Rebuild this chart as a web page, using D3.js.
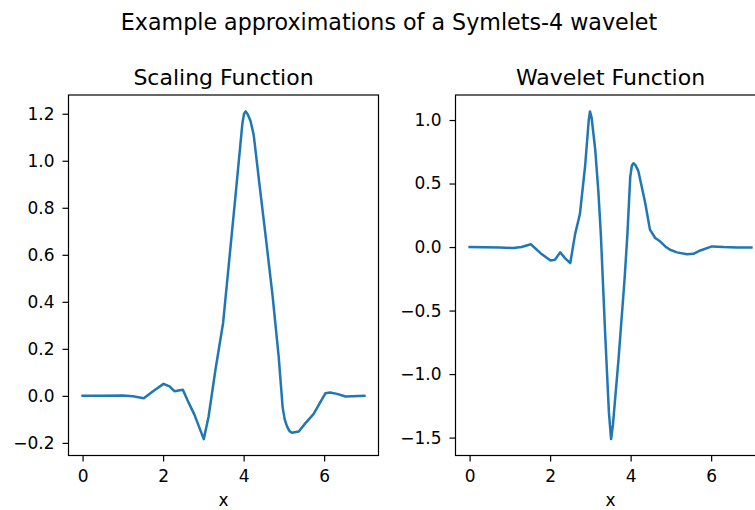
<!DOCTYPE html>
<html>
<head>
<meta charset="utf-8">
<script src="https://cdn.jsdelivr.net/npm/d3@7"></script>
<style>
  html, body { margin: 0; padding: 0; background: #fff; }
  svg { display: block; font-family: "DejaVu Sans", sans-serif; }
</style>
</head>
<body>
<svg id="chart" width="755" height="510"></svg>
<script>
// Symlets-4 scaling function (phi), sampled support 0..7
const phiX = [0, 0.5, 1.0, 1.25, 1.52, 1.75, 2.01, 2.16, 2.28, 2.49, 2.64, 2.78, 3.01, 3.13, 3.30, 3.49,
  3.79, 3.97, 4.01, 4.05, 4.10, 4.17, 4.25, 4.40, 4.56, 4.72, 4.87, 4.97, 5.02, 5.08, 5.14, 5.20,
  5.37, 5.53, 5.74, 6.03, 6.15, 6.32, 6.53, 7.0];
const phiY = [0, 0, 0.002, -0.002, -0.010, 0.020, 0.051, 0.040, 0.020, 0.026, -0.031, -0.081, -0.184, -0.088, 0.111, 0.31,
  0.837, 1.16, 1.20, 1.21, 1.198, 1.17, 1.11, 0.89, 0.66, 0.424, 0.168, -0.05, -0.10, -0.131, -0.150, -0.157,
  -0.152, -0.117, -0.077, 0.011, 0.014, 0.0085, -0.003, 0];

// Symlets-4 wavelet function (psi)
const psiX = [0, 0.75, 1.08, 1.29, 1.52, 1.77, 2.01, 2.12, 2.25, 2.37, 2.50, 2.62, 2.74, 2.87, 2.96, 2.99,
  3.03, 3.12, 3.20, 3.26, 3.37, 3.46, 3.515, 3.56, 3.70, 3.85, 3.92, 3.99, 4.03, 4.07, 4.12, 4.19,
  4.36, 4.48, 4.61, 4.73, 4.86, 4.98, 5.15, 5.40, 5.56, 5.73, 6.02, 6.31, 6.64, 7.0];
const psiY = [0, -0.003, -0.008, 0.0, 0.022, -0.050, -0.106, -0.100, -0.042, -0.087, -0.127, 0.10, 0.26, 0.64, 1.0, 1.068,
  1.02, 0.77, 0.43, 0.10, -0.70, -1.30, -1.512, -1.40, -0.88, -0.25, 0.10, 0.55, 0.64, 0.66, 0.645, 0.60,
  0.35, 0.137, 0.071, 0.045, 0.005, -0.021, -0.042, -0.056, -0.053, -0.027, 0.005, 0.0, -0.003, -0.003];

const xTicks = [0, 2, 4, 6];
const phiTicks = [-0.2, 0.0, 0.2, 0.4, 0.6, 0.8, 1.0, 1.2];
const psiTicks = [-1.5, -1.0, -0.5, 0.0, 0.5, 1.0];

const suptitle = "Example approximations of a Symlets-4 wavelet";
const panels = [
  { title: "Scaling Function", xs: phiX, ys: phiY, yTicks: phiTicks, left: 68.5 },
  { title: "Wavelet Function", xs: psiX, ys: psiY, yTicks: psiTicks, left: 455.5 }
];

const svg = d3.select("#chart");
const axW = 310, axTop = 95, axBottom = 455.5;
const lineColor = "#1f77b4";
const fmt = d3.format(".1f");

svg.append("text")
  .attr("x", 389).attr("y", 30)
  .attr("text-anchor", "middle")
  .attr("font-size", 22.2)
  .attr("fill", "#000")
  .text(suptitle);

// pad a data extent by 5% on each side
function padded(ext) {
  const m = (ext[1] - ext[0]) * 0.05;
  return [ext[0] - m, ext[1] + m];
}

panels.forEach(p => {
  const x = d3.scaleLinear().domain(padded(d3.extent(p.xs))).range([p.left, p.left + axW]);
  const y = d3.scaleLinear().domain(padded(d3.extent(p.ys))).range([axBottom, axTop]);
  const g = svg.append("g");

  const pts = p.xs.map((v, i) => [v, p.ys[i]]);
  g.append("path")
    .datum(pts)
    .attr("fill", "none")
    .attr("stroke", lineColor)
    .attr("stroke-width", 2.5)
    .attr("stroke-linejoin", "round")
    .attr("stroke-linecap", "square")
    .attr("d", d3.line().x(d => x(d[0])).y(d => y(d[1])));

  const xa = g.append("g")
    .attr("transform", `translate(0,${axBottom})`)
    .call(d3.axisBottom(x).tickValues(xTicks).tickFormat(d3.format("d")).tickSize(6).tickSizeOuter(0).tickPadding(8));
  const ya = g.append("g")
    .attr("transform", `translate(${p.left},0)`)
    .call(d3.axisLeft(y).tickValues(p.yTicks).tickFormat(fmt).tickSize(6).tickSizeOuter(0).tickPadding(8));

  [xa, ya].forEach(a => {
    a.select(".domain").remove();
    a.selectAll("line").attr("stroke", "#000").attr("stroke-width", 1.2);
    a.selectAll("text").attr("font-size", 17).attr("fill", "#000").attr("font-family", "DejaVu Sans");
  });

  // axes frame
  g.append("rect")
    .attr("x", p.left).attr("y", axTop)
    .attr("width", axW).attr("height", axBottom - axTop)
    .attr("fill", "none").attr("stroke", "#000").attr("stroke-width", 1.2);

  g.append("text")
    .attr("x", p.left + axW / 2).attr("y", 85)
    .attr("text-anchor", "middle")
    .attr("font-size", 22)
    .attr("fill", "#000")
    .text(p.title);

  g.append("text")
    .attr("x", p.left + axW / 2).attr("y", 506)
    .attr("text-anchor", "middle")
    .attr("font-size", 17)
    .attr("fill", "#000")
    .text("x");
});
</script>
</body>
</html>
